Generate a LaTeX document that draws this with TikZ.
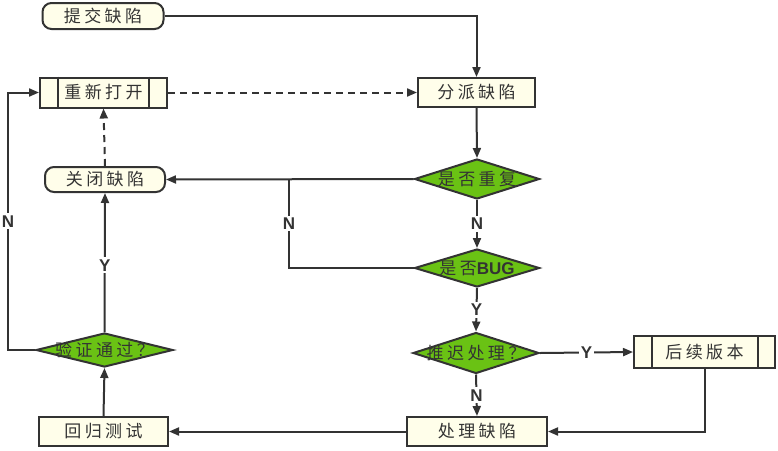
\documentclass[tikz,border=0pt]{standalone}
\usepackage{fontspec}
\setmainfont{Liberation Sans}
\newfontfamily\cjk[LetterSpace=20]{Noto Sans CJK SC}
\usetikzlibrary{shapes.geometric,arrows.meta}

\definecolor{cream}{RGB}{255,254,234}
\definecolor{leaf}{RGB}{106,194,20}
\definecolor{ink}{RGB}{51,51,51}
\newcommand{\dtext}[1]{\makebox[0pt][c]{#1}}

\tikzstyle{startstop} = [rectangle, rounded corners=9pt, draw=ink, line width=2pt, fill=cream, minimum width=121pt, minimum height=26pt, inner sep=0pt, font=\cjk\fontsize{17}{17}\selectfont, text=ink]
\tikzstyle{process} = [rectangle, draw=ink, line width=2pt, fill=cream, minimum height=30pt, inner sep=0pt, font=\cjk\fontsize{17}{17}\selectfont, text=ink]
\tikzstyle{decision} = [diamond, draw=ink, line width=2pt, fill=leaf, inner sep=0pt, font=\cjk\fontsize{17}{17}\selectfont, text=ink]
\tikzstyle{flow} = [draw=ink, line width=2pt, -{Triangle[length=10pt,width=8pt]}]
\tikzstyle{plain} = [draw=ink, line width=2pt]
\tikzstyle{tag} = [fill=white, inner sep=2pt, font=\bfseries\fontsize{17}{17}\selectfont, text=ink]

\begin{document}
\begin{tikzpicture}[x=1pt,y=-1pt]
\useasboundingbox (0,0) rectangle (778,450);
% boxes
\node[startstop] (submit) at (103,16) {提交缺陷};
\node[process, minimum width=127pt] (reopen) at (103.5,92.5) {重新打开};
\node[process, minimum width=117pt, minimum height=29pt] (assign) at (476.5,92.5) {分派缺陷};
\node[startstop, minimum width=120pt, minimum height=25pt] (close) at (105,179.5) {关闭缺陷};
\node[decision, minimum width=125pt, minimum height=40pt] (dup) at (477,179) {\dtext{是否重复}};
\node[decision, minimum width=125pt, minimum height=38pt] (isbug) at (477,268) {\dtext{是否{\bfseries\rmfamily BUG}}};
\node[decision, minimum width=126pt, minimum height=41pt] (defer) at (476,353) {\dtext{推迟处理？}};
\node[decision, minimum width=137pt, minimum height=34pt] (verify) at (104.5,350) {\dtext{验证通过？}};
\node[process, minimum width=141pt, minimum height=32pt] (later) at (704.5,352) {后续版本};
\node[process, minimum width=140pt, minimum height=29pt] (fix) at (477,431.5) {处理缺陷};
\node[process, minimum width=129pt, minimum height=29pt] (retest) at (103.5,431.5) {回归测试};
% inner bars of the sub-process boxes
\draw[plain] ([xshift=19pt]reopen.north west) -- ([xshift=19pt]reopen.south west);
\draw[plain] ([xshift=-19pt]reopen.north east) -- ([xshift=-19pt]reopen.south east);
\draw[plain] ([xshift=19pt]later.north west) -- ([xshift=19pt]later.south west);
\draw[plain] ([xshift=-18pt]later.north east) -- ([xshift=-18pt]later.south east);
% connectors
\coordinate (split) at (289,179);
\coordinate (lowleft) at (8,350);
\coordinate (upleft) at (8,92.5);
\draw[flow] (submit.east) -| (assign.north);
\draw[flow, dashed, dash pattern=on 7pt off 5pt] (reopen.east) -- (assign.west);
\draw[flow] (assign.south) -- (dup.north);
\draw[flow] (dup.west) -- (close.east);
\draw[plain] (isbug.west) -| node[tag, pos=0.75] {N} (split);
\draw[flow] (dup.south) -- node[tag] {N} (isbug.north);
\draw[flow] (isbug.south) -- node[tag] {Y} (defer.north);
\draw[flow] (defer.east) -- node[tag] {Y} (later.west);
\draw[flow] (defer.south) -- node[tag] {N} (fix.north);
\draw[flow] (later.south) |- (fix.east);
\draw[flow] (fix.west) -- (retest.east);
\draw[flow] (retest.north) -- (verify.south);
\draw[flow] (verify.north) -- node[tag, pos=0.48] {Y} (close.south);
\draw[flow] (verify.west) -- (lowleft) -- node[tag, pos=0.5] {N} (upleft) -- (reopen.west);
\draw[flow, dashed, dash pattern=on 7pt off 5pt] (close.north) -- (reopen.south);
\end{tikzpicture}
\end{document}
